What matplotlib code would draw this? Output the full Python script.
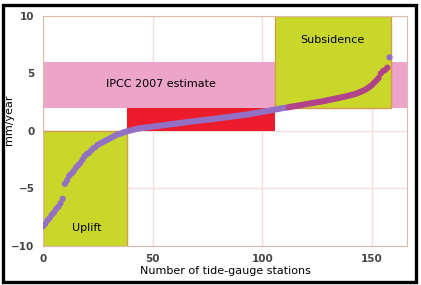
import numpy as np
import matplotlib.pyplot as plt
from matplotlib.patches import Rectangle

# Sorted rates of relative sea-level change per tide-gauge station (mm/year)
rates = [-8.3, -8.1, -7.8, -7.6, -7.3, -7.1, -6.8, -6.6, -6.3, -5.9,
         -4.6, -4.3, -3.9, -3.7, -3.5, -3.2, -3.0, -2.8, -2.5, -2.2,
         -2.0, -1.9, -1.7, -1.5, -1.4, -1.2, -1.1, -1.0, -0.9, -0.8,
         -0.7, -0.6, -0.5, -0.4, -0.3, -0.25, -0.2, -0.1, -0.05, 0.0,
         0.05, 0.1, 0.15, 0.2, 0.22, 0.25, 0.28, 0.3, 0.33, 0.35,
         0.38, 0.4, 0.43, 0.45, 0.48, 0.5, 0.52, 0.55, 0.58, 0.6,
         0.62, 0.65, 0.68, 0.7, 0.72, 0.75, 0.78, 0.8, 0.82, 0.85,
         0.87, 0.9, 0.92, 0.94, 0.96, 0.98, 1.0, 1.02, 1.05, 1.08,
         1.1, 1.12, 1.15, 1.18, 1.2, 1.22, 1.25, 1.28, 1.3, 1.33,
         1.35, 1.38, 1.4, 1.43, 1.46, 1.5, 1.53, 1.56, 1.6, 1.63,
         1.66, 1.7, 1.73, 1.76, 1.8, 1.83, 1.87, 1.9, 1.94, 1.98,
         2.0, 2.03, 2.06, 2.1, 2.13, 2.16, 2.2, 2.23, 2.26, 2.3,
         2.33, 2.36, 2.4, 2.43, 2.46, 2.5, 2.53, 2.56, 2.6, 2.64,
         2.68, 2.72, 2.76, 2.8, 2.84, 2.88, 2.92, 2.96, 3.0, 3.05,
         3.1, 3.15, 3.2, 3.27, 3.34, 3.42, 3.5, 3.6, 3.72, 3.85,
         4.0, 4.2, 4.4, 4.6, 5.0, 5.2, 5.3, 5.5, 6.4]

# Shaded regions (x0, x1, y0, y1)
ipcc_band = (0, 166, 2, 6)
red_band = (38.5, 106, 0, 2)
uplift_box = (0, 38.5, -10, 0)
subsidence_box = (106, 158.5, 2, 10)

xticks = [0, 50, 100, 150]
yticks = [-10, -5, 0, 5, 10]

fig = plt.figure(figsize=(4.21, 2.85), dpi=100)
ax = fig.add_axes([0.102, 0.137, 0.865, 0.807])
ax.set_xlim(0, 166)
ax.set_ylim(-10, 10)

ax.set_xticks(xticks)
ax.set_yticks(yticks)
ax.grid(True, color='#f2dede', linewidth=1.0)
ax.set_axisbelow(True)
ax.tick_params(length=0, labelsize=7.5, labelcolor='#444444', pad=6)
for lab in ax.get_xticklabels() + ax.get_yticklabels():
    lab.set_fontweight('bold')
for sp in ax.spines.values():
    sp.set_color('#dcbca8')

def box(b, fc, ec='none', z=1):
    x0, x1, y0, y1 = b
    ax.add_patch(Rectangle((x0, y0), x1 - x0, y1 - y0, facecolor=fc,
                           edgecolor=ec, linewidth=1.0, zorder=z))

box(ipcc_band, '#eca4c9', z=1)
box(red_band, '#ec1c2c', z=1.5)
box(uplift_box, '#c9d72a', ec='#d49a50', z=2)
box(subsidence_box, '#c9d72a', ec='#d49a50', z=2)

ax.text(54, 4.1, 'IPCC 2007 estimate', ha='center', va='center', fontsize=8, zorder=5)
ax.text(132, 7.9, 'Subsidence', ha='center', va='center', fontsize=8, zorder=5)
ax.text(20, -8.4, 'Uplift', ha='center', va='center', fontsize=8, zorder=5)

x = np.arange(len(rates))
y = np.array(rates)
cols = ['#9470c4' if i < 112 or i == len(rates) - 1 else '#b2428a' for i in x]
ax.scatter(x, y, s=20, c=cols, edgecolors='none', zorder=4)

ax.set_xlabel('Number of tide-gauge stations', fontsize=8, labelpad=1)
ax.set_ylabel('mm/year', fontsize=8)
ax.yaxis.set_label_coords(-0.08, 0.55)

# black frame round the picture
fig.patches.append(Rectangle((0.007, 0.012), 0.981, 0.972, transform=fig.transFigure,
                             fill=False, edgecolor='black', linewidth=2.4))

plt.savefig('out.png', dpi=100)
plt.close()
